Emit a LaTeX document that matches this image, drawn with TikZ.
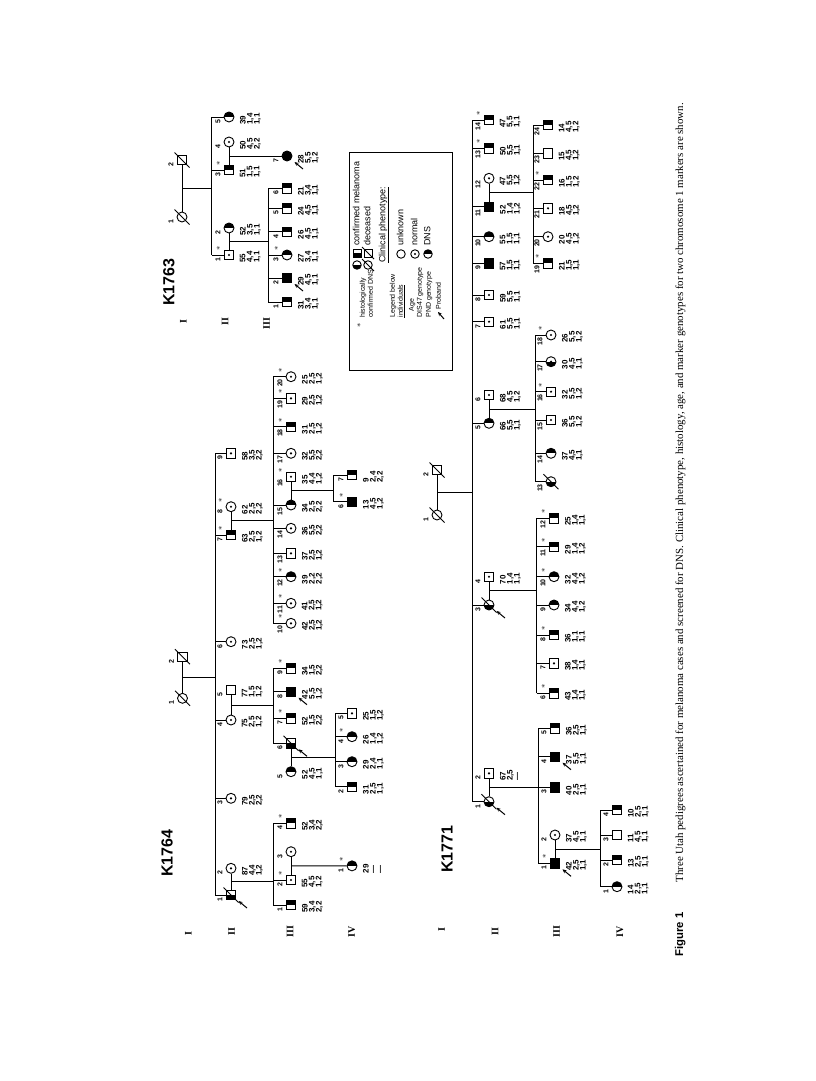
\documentclass[tikz,border=0pt]{standalone}
\usepackage{fontspec}
\setmainfont{Liberation Serif}
\setsansfont{Liberation Sans}
\usetikzlibrary{calc,arrows.meta}

\tikzset{
  male/.style={draw, rectangle, minimum size=9.5pt, inner sep=0pt},
  female/.style={draw, circle, minimum size=10pt, inner sep=0pt},
  dns/.style={path picture={\fill (path picture bounding box.west) rectangle (path picture bounding box.north east);}},
  mel/.style={path picture={\fill (path picture bounding box.south west) rectangle (path picture bounding box.east);}},
  nrm/.style={path picture={\fill (path picture bounding box.center) circle (1.2pt);}},
  nrmmel/.style={path picture={\fill (path picture bounding box.south west) rectangle (path picture bounding box.east);
      \fill (path picture bounding box.center) circle (1.2pt);}},
  both/.style={fill=black},
  numlab/.style={rotate=90, anchor=east, inner sep=0pt, font=\sffamily\bfseries\fontsize{7}{7}\selectfont},
  starlab/.style={rotate=90, inner sep=0pt, font=\fontsize{8}{8}\selectfont},
  datalab/.style={rotate=90, anchor=north west, align=left, inner sep=0pt, font=\sffamily\bfseries\fontsize{8}{7}\selectfont},
  genlab/.style={rotate=90, inner sep=0pt, font=\rmfamily\bfseries\fontsize{10}{10}\selectfont},
  famlab/.style={rotate=90, inner sep=0pt, font=\sffamily\bfseries\fontsize{16}{16}\selectfont},
  legtext/.style={rotate=90, anchor=west, inner sep=0pt, text height=6pt, text depth=1.5pt, font=\sffamily\fontsize{9}{9}\selectfont},
  legsmall/.style={legtext, text height=5pt, text depth=1.2pt, font=\sffamily\fontsize{7}{7}\selectfont},
  slash/.style={line width=0.9pt},
  proband/.style={line width=1pt, -{Stealth[length=4pt,width=3.5pt]}},
}

\newcommand{\indiv}[7]{%
  \node[#4] (#1) at (#2,-#3) {};
  \node[numlab] (#1-n) at (#2-11,-#3-2) {#5};
  \if\relax\detokenize{#6}\relax\else\node[starlab] (#1-s) at (#2-10.5,-#3+6.5) {$\ast$};\fi
  \if\relax\detokenize{#7}\relax\else\node[datalab] (#1-d) at (#2+10.5,-#3-8) {#7};\fi
}

\begin{document}
\begin{tikzpicture}[x=1pt, y=1pt, line width=0.9pt]
\useasboundingbox (0,0) rectangle (816,-1081);
\fill[white] (0,0) rectangle (816,-1081);

% K1763
\node[famlab] (a-name) at (169,-282) {K1763};
\node[genlab] (a-gI) at (183.3,-321.7) {I};
\node[genlab] (a-gII) at (225,-321.7) {II};
\node[genlab] (a-gIII) at (266.7,-323.3) {III};

\indiv{a1-1}{182}{217}{female}{1}{}{}
\indiv{a1-2}{182}{160}{male}{2}{}{}
\indiv{a2-1}{229}{255}{male,nrm}{1}{*}{55\\4,4\\1,1}
\indiv{a2-2}{229}{228}{female,dns}{2}{}{52\\3,5\\1,1}
\indiv{a2-3}{229}{170}{male,dns}{3}{*}{51\\1,5\\1,1}
\indiv{a2-4}{229}{142}{female,nrm}{4}{}{50\\4,5\\2,2}
\indiv{a2-5}{229}{117}{female,dns}{5}{}{39\\1,4\\1,1}
\indiv{a3-1}{287}{302}{male,dns}{1}{}{31\\3,4\\1,1}
\indiv{a3-2}{287}{278}{male,both}{2}{}{29\\4,5\\1,1}
\indiv{a3-3}{287}{255}{female,dns}{3}{*}{27\\3,4\\1,1}
\indiv{a3-4}{287}{231.7}{male,dns}{4}{}{26\\4,5\\1,1}
\indiv{a3-5}{287}{208.3}{male,dns}{5}{}{24\\4,5\\1,1}
\indiv{a3-6}{287}{188.3}{male,dns}{6}{}{21\\3,4\\1,1}
\indiv{a3-7}{287}{156}{female,both}{7}{}{28\\5,5\\1,2}

\draw (a1-1) -- (a1-2);
\coordinate (a-m1) at ($(a1-1)!.5!(a1-2)$);
\coordinate (a-s2) at (211.7,0);
\draw (a-m1) -- (a-m1 -| a-s2);
\draw (a-s2 |- a2-5) -- (a-s2 |- a2-1);
\foreach \kid in {a2-1,a2-3,a2-5} \draw (a-s2 |- \kid) -- (\kid);
\draw (a2-1) -- (a2-2);
\coordinate (a-m2) at ($(a2-1)!.5!(a2-2)$);
\coordinate (a-s3) at (268.3,0);
\draw (a-m2) -- (a-m2 -| a-s3);
\draw (a-s3 |- a3-6) -- (a-s3 |- a3-1);
\foreach \kid in {a3-1,a3-2,a3-3,a3-4,a3-5,a3-6} \draw (a-s3 |- \kid) -- (\kid);
\draw (a2-3) -- (a2-4);
\coordinate (a-m3) at ($(a2-3)!.5!(a2-4)$);
\draw (a-m3) -- (a3-7);

% K1764
\node[famlab] (b-name) at (167,-853) {K1764};
\node[genlab] (b-gI) at (188.3,-933.3) {I};
\node[genlab] (b-gII) at (231.7,-931.7) {II};
\node[genlab] (b-gIII) at (290,-931.7) {III};
\node[genlab] (b-gIV) at (351.7,-931.7) {IV};

\indiv{b1-1}{182.5}{698.3}{female}{1}{}{}
\indiv{b1-2}{182.5}{656.7}{male}{2}{}{}
\indiv{b2-1}{231}{895}{male,mel}{1}{}{}
\indiv{b2-2}{231}{868.3}{female,nrm}{2}{}{87\\4,4\\1,2}
\indiv{b2-3}{231}{798.3}{female,nrm}{3}{}{79\\2,5\\2,2}
\indiv{b2-4}{231}{720}{female,nrm}{4}{}{75\\2,5\\1,2}
\indiv{b2-5}{231}{690}{male}{5}{}{77\\1,5\\1,2}
\indiv{b2-6}{231}{641.7}{female,nrm}{6}{}{73\\2,5\\1,2}
\indiv{b2-7}{231}{535}{male,dns}{7}{*}{63\\2,5\\1,2}
\indiv{b2-8}{231}{506.7}{female,nrm}{8}{*}{62\\2,5\\2,2}
\indiv{b2-9}{231}{453.3}{male,nrm}{9}{}{58\\3,5\\2,2}
\indiv{b3-1}{291}{905}{male,dns}{1}{}{59\\3,4\\2,2}
\indiv{b3-2}{291}{880}{male,nrm}{2}{*}{55\\4,5\\1,2}
\indiv{b3-3}{291}{851.7}{female,nrm}{3}{}{}
\indiv{b3-4}{291}{823.3}{male,dns}{4}{*}{52\\3,4\\2,2}
\indiv{b3-5}{291}{771.7}{female,dns}{5}{}{52\\4,5\\1,1}
\indiv{b3-6}{291}{743.3}{male,mel}{6}{}{}
\indiv{b3-7}{291}{718.3}{male,dns}{7}{*}{52\\1,5\\2,2}
\indiv{b3-8}{291}{691.7}{male,both}{8}{}{42\\5,5\\1,2}
\indiv{b3-9}{291}{668.3}{male,dns}{9}{*}{34\\1,5\\2,2}
\indiv{b3-10}{291}{623.3}{female,nrm}{10}{*}{42\\2,5\\1,2}
\indiv{b3-11}{291}{603.3}{female,nrm}{11}{*}{41\\2,5\\1,2}
\indiv{b3-12}{291}{576.7}{female,dns}{12}{*}{39\\2,2\\2,2}
\indiv{b3-13}{291}{553.3}{male,nrm}{13}{}{37\\2,5\\1,2}
\indiv{b3-14}{291}{528.3}{female,nrm}{14}{}{36\\5,5\\2,2}
\indiv{b3-15}{291}{505}{female,dns}{15}{}{34\\2,5\\2,2}
\indiv{b3-16}{291}{476.7}{male,nrm}{16}{*}{35\\4,4\\1,2}
\indiv{b3-17}{291}{453.3}{female,nrm}{17}{}{32\\5,5\\2,2}
\indiv{b3-18}{291}{426.7}{male,dns}{18}{*}{31\\2,5\\1,2}
\indiv{b3-19}{291}{398.3}{male,nrm}{19}{*}{29\\2,5\\1,2}
\indiv{b3-20}{291}{376.7}{female,nrm}{20}{*}{25\\2,5\\1,2}
\indiv{b4-1}{352}{865.85}{female,dns}{1}{*}{29\\\textemdash\\\textemdash}
\indiv{b4-2}{352}{786.7}{male,dns}{2}{}{31\\2,5\\1,1}
\indiv{b4-3}{352}{761.7}{female,dns}{3}{}{29\\2,4\\1,1}
\indiv{b4-4}{352}{736.7}{female,dns}{4}{*}{26\\1,4\\1,2}
\indiv{b4-5}{352}{713.3}{male,nrm}{5}{}{25\\1,5\\1,2}
\indiv{b4-6}{352}{501.7}{male,both}{6}{*}{13\\4,5\\1,2}
\indiv{b4-7}{352}{475}{male,dns}{7}{}{9\\2,4\\2,2}

\draw (b1-1) -- (b1-2);
\coordinate (b-m1) at ($(b1-1)!.5!(b1-2)$);
\coordinate (b-s2) at (215,0);
\draw (b-m1) -- (b-m1 -| b-s2);
\draw (b-s2 |- b2-9) -- (b-s2 |- b2-1);
\foreach \kid in {b2-1,b2-3,b2-4,b2-6,b2-7,b2-9} \draw (b-s2 |- \kid) -- (\kid);
\coordinate (b-s3) at (273,0);
\draw (b2-7) -- (b2-8);
\coordinate (b-m2) at ($(b2-7)!.5!(b2-8)$);
\draw (b-m2) -- (b-m2 -| b-s3);
\draw (b-s3 |- b3-20) -- (b-s3 |- b3-10);
\foreach \kid in {b3-10,b3-11,b3-12,b3-13,b3-14,b3-15,b3-17,b3-18,b3-19,b3-20} \draw (b-s3 |- \kid) -- (\kid);
\draw (b3-15) -- (b3-16);
\coordinate (b-m3) at ($(b3-15)!.5!(b3-16)$);
\coordinate (b-s4a) at (333.3,0);
\draw (b-m3) -- (b-m3 -| b-s4a);
\draw (b-s4a |- b4-7) -- (b-s4a |- b4-6);
\foreach \kid in {b4-6,b4-7} \draw (b-s4a |- \kid) -- (\kid);
\draw (b2-4) -- (b2-5);
\coordinate (b-m4) at ($(b2-4)!.5!(b2-5)$);
\draw (b-m4) -- (b-m4 -| b-s3);
\draw (b-s3 |- b3-9) -- (b-s3 |- b3-6);
\foreach \kid in {b3-6,b3-7,b3-8,b3-9} \draw (b-s3 |- \kid) -- (\kid);
\draw (b3-5) -- (b3-6);
\coordinate (b-m5) at ($(b3-5)!.5!(b3-6)$);
\coordinate (b-s4b) at (335,0);
\draw (b-m5) -- (b-m5 -| b-s4b);
\draw (b-s4b |- b4-5) -- (b-s4b |- b4-2);
\foreach \kid in {b4-2,b4-3,b4-4,b4-5} \draw (b-s4b |- \kid) -- (\kid);
\draw (b2-1) -- (b2-2);
\coordinate (b-m6) at ($(b2-1)!.5!(b2-2)$);
\draw (b-m6) -- (b-m6 -| b-s3);
\draw (b-s3 |- b3-4) -- (b-s3 |- b3-1);
\foreach \kid in {b3-1,b3-2,b3-4} \draw (b-s3 |- \kid) -- (\kid);
\draw (b3-2) -- (b3-3);
\coordinate (b-m7) at ($(b3-2)!.5!(b3-3)$);
\draw (b-m7) -- (b4-1);

% K1771
\node[famlab] (c-name) at (447,-849) {K1771};
\node[genlab] (c-gI) at (441.7,-930) {I};
\node[genlab] (c-gII) at (495,-931.7) {II};
\node[genlab] (c-gIII) at (556.7,-931.7) {III};
\node[genlab] (c-gIV) at (620,-931.7) {IV};

\indiv{c1-1}{437}{515}{female}{1}{}{}
\indiv{c1-2}{437}{470}{male}{2}{}{}
\indiv{c2-1}{489}{801.7}{female,mel}{1}{}{}
\indiv{c2-2}{489}{773.3}{male,nrm}{2}{}{67\\2,5\\\textemdash}
\indiv{c2-3}{489}{605}{female,mel}{3}{}{}
\indiv{c2-4}{489}{576.7}{male,nrm}{4}{}{70\\1,4\\1,1}
\indiv{c2-5}{489}{423.3}{female,dns}{5}{}{66\\5,5\\1,1}
\indiv{c2-6}{489}{395}{male,nrm}{6}{}{68\\4,5\\1,2}
\indiv{c2-7}{489}{321.7}{male,nrm}{7}{}{61\\5,5\\1,1}
\indiv{c2-8}{489}{295}{male,nrm}{8}{}{59\\5,5\\1,1}
\indiv{c2-9}{489}{263.3}{male,both}{9}{}{57\\1,5\\1,1}
\indiv{c2-10}{489}{236.7}{female,dns}{10}{}{55\\1,5\\1,1}
\indiv{c2-11}{489}{206.7}{male,both}{11}{}{52\\1,4\\1,2}
\indiv{c2-12}{489}{178.3}{female,nrm}{12}{}{47\\5,5\\1,2}
\indiv{c2-13}{489}{148.3}{male,dns}{13}{*}{50\\5,5\\1,1}
\indiv{c2-14}{489}{120}{male,dns}{14}{*}{47\\5,5\\1,1}
\indiv{c3-1}{555}{863.3}{male,both}{1}{*}{42\\2,5\\1,1}
\indiv{c3-2}{555}{835}{female,nrm}{2}{}{37\\4,5\\1,1}
\indiv{c3-3}{555}{787.5}{male,both}{3}{}{40\\2,5\\1,1}
\indiv{c3-4}{555}{756.7}{male,both}{4}{}{37\\5,5\\1,1}
\indiv{c3-5}{555}{728.3}{male,dns}{5}{}{36\\2,5\\1,1}
\indiv{c3-6}{554}{693.3}{male,dns}{6}{*}{43\\1,4\\1,1}
\indiv{c3-7}{554}{663.3}{male,nrm}{7}{}{38\\1,4\\1,1}
\indiv{c3-8}{554}{635}{male,dns}{8}{*}{36\\1,1\\1,1}
\indiv{c3-9}{554}{605}{female,dns}{9}{}{34\\4,4\\1,2}
\indiv{c3-10}{554}{576.7}{female,dns}{10}{*}{32\\4,4\\1,2}
\indiv{c3-11}{554}{546.7}{male,dns}{11}{*}{29\\1,4\\1,2}
\indiv{c3-12}{554}{518.3}{male,dns}{12}{*}{25\\1,4\\1,1}
\indiv{c3-13}{551}{481.7}{female,mel}{13}{}{}
\indiv{c3-14}{551}{453.3}{female,dns}{14}{}{37\\4,5\\1,1}
\indiv{c3-15}{551}{420}{male,nrm}{15}{}{36\\5,5\\1,2}
\indiv{c3-16}{551}{391.7}{male,nrm}{16}{*}{32\\5,5\\1,2}
\indiv{c3-17}{551}{361.7}{female,nrmmel}{17}{}{30\\4,5\\1,1}
\indiv{c3-18}{551}{335}{female,nrm}{18}{*}{26\\5,5\\1,2}
\indiv{c3-19}{548}{263.3}{male,dns}{19}{*}{21\\1,5\\1,1}
\indiv{c3-20}{548}{236.7}{female,nrm}{20}{}{20\\4,5\\1,2}
\indiv{c3-21}{548}{208.3}{male,nrm}{21}{}{18\\4,5\\1,2}
\indiv{c3-22}{548}{180}{male,dns}{22}{*}{16\\1,5\\1,2}
\indiv{c3-23}{548}{153.3}{male}{23}{}{15\\4,5\\1,2}
\indiv{c3-24}{548}{125}{male,dns}{24}{}{14\\4,5\\1,2}
\indiv{c4-1}{617}{886.7}{female,dns}{1}{}{14\\2,5\\1,1}
\indiv{c4-2}{617}{860}{male,dns}{2}{}{13\\2,5\\1,1}
\indiv{c4-3}{617}{835}{male}{3}{}{11\\4,5\\1,1}
\indiv{c4-4}{617}{810}{male,dns}{4}{}{10\\2,5\\1,1}

\draw (c1-1) -- (c1-2);
\coordinate (c-m1) at ($(c1-1)!.5!(c1-2)$);
\coordinate (c-s2) at (472,0);
\draw (c-m1) -- (c-m1 -| c-s2);
\draw (c-s2 |- c2-14) -- (c-s2 |- c2-1);
\foreach \kid in {c2-1,c2-3,c2-5,c2-7,c2-8,c2-9,c2-10,c2-11,c2-13,c2-14} \draw (c-s2 |- \kid) -- (\kid);
\draw (c2-11) -- (c2-12);
\coordinate (c-m2) at ($(c2-11)!.5!(c2-12)$);
\coordinate (c-s3a) at (533.3,0);
\draw (c-m2) -- (c-m2 -| c-s3a);
\draw (c-s3a |- c3-24) -- (c-s3a |- c3-19);
\foreach \kid in {c3-19,c3-20,c3-21,c3-22,c3-23,c3-24} \draw (c-s3a |- \kid) -- (\kid);
\draw (c2-5) -- (c2-6);
\coordinate (c-m3) at ($(c2-5)!.5!(c2-6)$);
\coordinate (c-s3b) at (535,0);
\draw (c-m3) -- (c-m3 -| c-s3b);
\draw (c-s3b |- c3-18) -- (c-s3b |- c3-13);
\foreach \kid in {c3-13,c3-14,c3-15,c3-16,c3-17,c3-18} \draw (c-s3b |- \kid) -- (\kid);
\draw (c2-3) -- (c2-4);
\coordinate (c-m4) at ($(c2-3)!.5!(c2-4)$);
\coordinate (c-s3c) at (536.5,0);
\draw (c-m4) -- (c-m4 -| c-s3c);
\draw (c-s3c |- c3-12) -- (c-s3c |- c3-6);
\foreach \kid in {c3-6,c3-7,c3-8,c3-9,c3-10,c3-11,c3-12} \draw (c-s3c |- \kid) -- (\kid);
\draw (c2-1) -- (c2-2);
\coordinate (c-m5) at ($(c2-1)!.5!(c2-2)$);
\coordinate (c-s3d) at (538.3,0);
\draw (c-m5) -- (c-m5 -| c-s3d);
\draw (c-s3d |- c3-5) -- (c-s3d |- c3-1);
\foreach \kid in {c3-1,c3-3,c3-4,c3-5} \draw (c-s3d |- \kid) -- (\kid);
\draw (c3-1) -- (c3-2);
\coordinate (c-m6) at ($(c3-1)!.5!(c3-2)$);
\coordinate (c-s4) at (600.7,0);
\draw (c-m6) -- (c-m6 -| c-s4);
\draw (c-s4 |- c4-4) -- (c-s4 |- c4-1);
\foreach \kid in {c4-1,c4-2,c4-3,c4-4} \draw (c-s4 |- \kid) -- (\kid);

% deceased and probands
\foreach \n in {a1-1,a1-2,b1-1,b1-2,b2-1,b3-6,c1-1,c1-2,c2-1,c2-3,c3-13}
  \draw[slash] ([shift={(-7.5,7.5)}]\n.center) -- ([shift={(7.5,-7.5)}]\n.center);
\foreach \n in {a3-7,a3-2,b2-1,b3-8,b3-6,c2-1,c2-3,c3-4,c3-1}
  \draw[proband] ([shift={(16,-13)}]\n.center) -- ([shift={(7.5,-6)}]\n.center);

% legend
\draw (349,-152) rectangle (452,-370);
\node[female,mel,minimum size=8.5pt] (lg-mf) at (357,-265) {};
\node[male,mel,minimum size=8pt] (lg-mm) at (357,-253) {};
\node[legtext] (lg-t1) at (357,-246) {confirmed melanoma};
\node[female,minimum size=8.5pt] (lg-df) at (368,-265) {};
\node[male,minimum size=8pt] (lg-dm) at (368,-253) {};
\draw[slash] ([shift={(-6,6)}]lg-df.center) -- ([shift={(6,-6)}]lg-df.center);
\draw[slash] ([shift={(-6,6)}]lg-dm.center) -- ([shift={(6,-6)}]lg-dm.center);
\node[legtext] (lg-t2) at (368,-246) {deceased};
\node[legtext] (lg-t3) at (383,-263) {\underline{Clinical phenotype:}};
\node[female,minimum size=8.5pt] (lg-u) at (401,-254) {};
\node[legtext] (lg-t4) at (401,-246) {unknown};
\node[female,nrm,minimum size=8.5pt] (lg-n) at (415,-254) {};
\node[legtext] (lg-t5) at (415,-246) {normal};
\node[female,dns,minimum size=8.5pt] (lg-d) at (428,-254) {};
\node[legtext] (lg-t6) at (428,-246) {DNS};
\node[starlab] (lg-st) at (359,-325) {$\ast$};
\node[legsmall] (lg-t7) at (363,-318) {histologically};
\node[legsmall] (lg-t8) at (371,-318) {confirmed DNS};
\node[legsmall] (lg-t9) at (393,-318) {Legend below};
\node[legsmall] (lg-t10) at (401,-318) {\underline{individuals}};
\node[legsmall, anchor=center] (lg-t11) at (412,-305) {Age};
\node[legsmall] (lg-t12) at (420,-318) {DIS47 genotype};
\node[legsmall] (lg-t13) at (429,-318) {PND genotype};
\node[legsmall] (lg-t14) at (439,-310) {Proband};
\draw[proband] ($(lg-t14.west)+(5,-9)$) -- ($(lg-t14.west)+(-1,-2)$);

% caption
\node[rotate=90, anchor=base west, inner sep=0pt, font=\sffamily\bfseries\fontsize{11.3}{12}\selectfont] (fig-lab) at (683,-957) {Figure 1};
\node[rotate=90, anchor=base west, inner sep=0pt, font=\rmfamily\fontsize{10.9}{12}\selectfont] (fig-cap) at (683,-883) {Three Utah pedigrees ascertained for melanoma cases and screened for DNS. Clinical phenotype, histology, age, and marker genotypes for two chromosome 1 markers are shown.};
\end{tikzpicture}
\end{document}
